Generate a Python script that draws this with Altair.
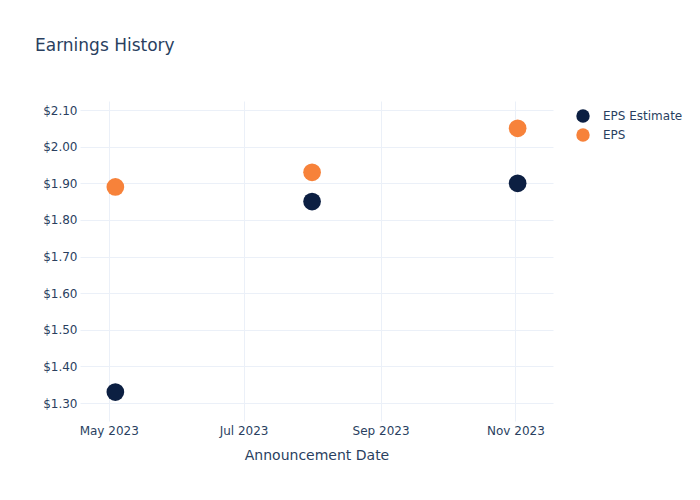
import altair as alt
import pandas as pd

dates = ["2023-05-04", "2023-08-01", "2023-11-02"]
eps_estimate = [1.33, 1.85, 1.90]
eps_actual = [1.89, 1.93, 2.05]
series = ["EPS Estimate", "EPS"]
colors = ["#0c1f42", "#f7823a"]
x_ticks = ["2023-05-01", "2023-07-01", "2023-09-01", "2023-11-01"]
y_ticks = [1.3, 1.4, 1.5, 1.6, 1.7, 1.8, 1.9, 2.0, 2.1]

rows = []
for d, e, a in zip(dates, eps_estimate, eps_actual):
    rows.append({"date": d, "value": e, "series": series[0]})
    rows.append({"date": d, "value": a, "series": series[1]})
df = pd.DataFrame(rows)

txt = "#2a3f5f"
grid = "#ebf0f8"
font = "DejaVu Sans"

chart = (
    alt.Chart(df)
    .mark_circle(size=314, opacity=1)
    .encode(
        x=alt.X(
            "date:T",
            scale=alt.Scale(type="utc", domain=["2023-04-18", "2023-11-18"]),
            axis=alt.Axis(
                title="Announcement Date",
                values=[{"year": int(t[:4]), "month": int(t[5:7]), "date": 1, "utc": True} for t in x_ticks],
                labelExpr="utcFormat(datum.value, '%b %Y')",
                grid=True,
                gridColor=grid,
                domain=False,
                ticks=False,
                labelPadding=4,
                labelFontSize=12,
                labelColor=txt,
                labelFont=font,
                titleFont=font,
                titleFontSize=14,
                titleFontWeight="normal",
                titleColor=txt,
                titlePadding=12,
            ),
        ),
        y=alt.Y(
            "value:Q",
            scale=alt.Scale(domain=[1.251, 2.1246], nice=False, zero=False),
            axis=alt.Axis(
                title=None,
                values=y_ticks,
                format="$.2f",
                grid=True,
                gridColor=grid,
                domain=False,
                ticks=False,
                labelPadding=3,
                labelFontSize=12,
                labelColor=txt,
                labelFont=font,
            ),
        ),
        color=alt.Color(
            "series:N",
            scale=alt.Scale(domain=series, range=colors),
            sort=series,
            legend=alt.Legend(
                title=None,
                orient="none",
                legendX=496,
                legendY=8,
                symbolType="circle",
                symbolSize=180,
                symbolStrokeWidth=0,
                symbolOpacity=1,
                labelFontSize=12,
                labelColor=txt,
                labelFont=font,
                labelOffset=13,
                rowPadding=5,
                padding=0,
            ),
        ),
    )
    .properties(
        width=473,
        height=320,
        title=alt.TitleParams(
            "Earnings History",
            anchor="start",
            frame="group",
            dx=-45,
            offset=46,
            fontSize=17,
            fontWeight="normal",
            color=txt,
            font=font,
        ),
        autosize=alt.AutoSizeParams(type="none"),
        padding={"left": 80, "top": 101, "right": 147, "bottom": 79},
        background="white",
    )
    .configure_view(stroke=None)
)

chart.save("out.html", embed_options={"renderer": "svg", "actions": False})
